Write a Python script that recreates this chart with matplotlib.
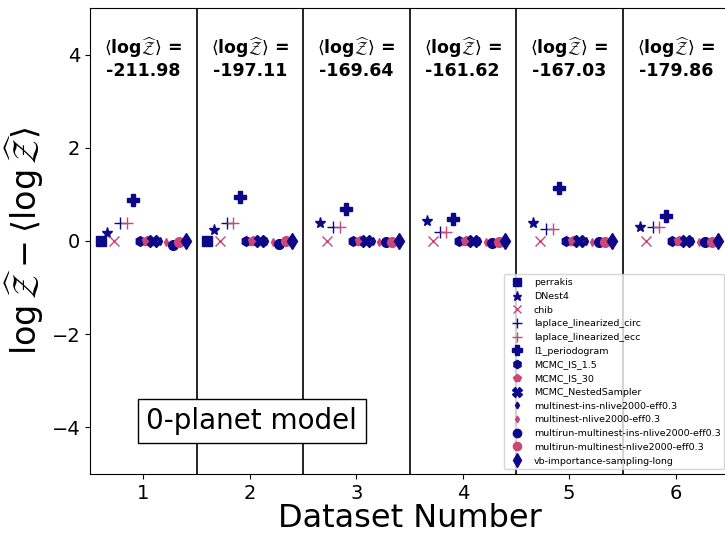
import numpy as np
import matplotlib
matplotlib.use("Agg")
import matplotlib.pyplot as plt

datasets = [1, 2, 3, 4, 5, 6]
mean_logz = ["-211.98", "-197.11", "-169.64", "-161.62", "-167.03", "-179.86"]

methods = ["perrakis", "DNest4", "chib", "laplace_linearized_circ", "laplace_linearized_ecc",
           "l1_periodogram", "MCMC_IS_1.5", "MCMC_IS_30", "MCMC_NestedSampler",
           "multinest-ins-nlive2000-eff0.3", "multinest-nlive2000-eff0.3",
           "multirun-multinest-ins-nlive2000-eff0.3", "multirun-multinest-nlive2000-eff0.3",
           "vb-importance-sampling-long"]

nan = np.nan
perrakis = [0.0, 0.0, nan, nan, nan, nan]
dnest4 = [0.17, 0.24, 0.38, 0.43, 0.38, 0.31]
chib = [0.0, 0.0, 0.0, 0.0, 0.0, 0.0]
laplace_circ = [0.38, 0.38, 0.29, 0.19, 0.26, 0.31]
laplace_ecc = [0.38, 0.38, 0.29, 0.19, 0.26, 0.31]
l1_periodogram = [0.89, 0.95, 0.69, 0.48, 1.14, 0.53]
mcmc_is_15 = [0.0, 0.0, 0.0, 0.0, 0.0, 0.0]
mcmc_is_30 = [0.0, 0.0, 0.0, 0.0, 0.0, 0.0]
mcmc_ns = [0.0, 0.0, 0.0, 0.0, 0.0, 0.0]
multinest_ins = [-0.01, -0.01, -0.01, -0.01, -0.01, -0.01]
multinest = [-0.03, -0.03, -0.03, -0.03, -0.03, -0.03]
multirun_ins = [-0.08, -0.06, -0.02, -0.04, -0.02, -0.03]
multirun = [-0.02, 0.0, -0.02, -0.03, -0.03, -0.03]
vb = [0.0, 0.0, 0.0, 0.0, 0.0, 0.0]

values = [perrakis, dnest4, chib, laplace_circ, laplace_ecc, l1_periodogram, mcmc_is_15,
          mcmc_is_30, mcmc_ns, multinest_ins, multinest, multirun_ins, multirun, vb]

navy = "#0d0887"
pink = "#cc4778"
styles = [
    dict(marker="s", color=navy, ms=7),
    dict(marker="*", color=navy, ms=8),
    dict(marker="x", color=pink, ms=7),
    dict(marker="+", color=navy, ms=8),
    dict(marker="+", color=pink, ms=8),
    dict(marker="P", color=navy, ms=8),
    dict(marker="h", color=navy, ms=7),
    dict(marker="p", color=pink, ms=7),
    dict(marker="X", color=navy, ms=8),
    dict(marker="d", color=navy, ms=4),
    dict(marker="d", color=pink, ms=4),
    dict(marker="o", color=navy, ms=7),
    dict(marker="o", color=pink, ms=7),
    dict(marker="d", color=navy, ms=8),
]

fig = plt.figure(figsize=(7.25, 5.33), dpi=100)
ax = fig.add_axes([90/725, 59/533, 639/725, 466/533])

offsets = np.linspace(-0.4, 0.4, len(methods))
x = np.array(datasets, dtype=float)
for name, vals, off, st in zip(methods, values, offsets, styles):
    ax.plot(x + off, vals, linestyle="none", marker=st["marker"], color=st["color"],
            markersize=st["ms"], label=name)

for b in np.arange(1.5, 6.5, 1.0):
    ax.axvline(b, color="black", lw=1.2)

for d, m in zip(datasets, mean_logz):
    ax.text(d, 3.93, r"$\langle\mathbf{log}\widehat{\mathcal{Z}}\rangle$ =" + "\n" + m,
            ha="center", va="center", fontsize=12.5, fontweight="bold", linespacing=1.15)

ax.text(2.02, -3.86, "0-planet model", ha="center", va="center", fontsize=20,
        bbox=dict(facecolor="white", edgecolor="black", boxstyle="square,pad=0.3"))

ax.set_xlim(0.5, 6.5)
ax.set_ylim(-5, 5)
ax.set_xticks(datasets)
ax.set_yticks([-4, -2, 0, 2, 4])
ax.tick_params(labelsize=14)
ax.set_xlabel("Dataset Number", fontsize=23, labelpad=0)
ax.set_ylabel(r"$\log\widehat{\mathcal{Z}} - \langle\log\widehat{\mathcal{Z}}\rangle$", fontsize=24)
ax.legend(loc="lower right", fontsize=6.8, markerscale=0.85)

fig.savefig("out.png", dpi=100)
